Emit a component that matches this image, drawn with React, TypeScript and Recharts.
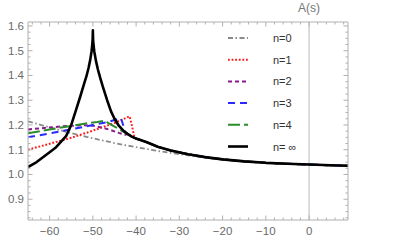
import React from 'react';
import { LineChart, Line, XAxis, YAxis, ReferenceLine, Legend } from 'recharts';

const W = 395;
const H = 247;
const FONT = '"Liberation Sans", Arial, sans-serif';
const FRAME = '#b0b0b0';
const LABEL = '#6a6a6a';

// Shared right-hand tail: every approximation merges onto n = ∞ here
const tailS = [-42, -41, -40, -37.5, -35, -32, -28, -24, -20, -15, -10, -5, 0, 5, 9];
const tailA = [1.164, 1.153, 1.145, 1.13, 1.112, 1.097, 1.082, 1.07, 1.061, 1.053, 1.047, 1.043, 1.04, 1.037, 1.035];

// n = ∞ (cusp at s = -50)
const infS = [-65, -63, -60, -58.5, -56.2, -55, -54, -53, -52, -51.5, -51, -50.6, -50.3, -50.15, -50.05, -50, -49.95, -49.83, -49.65, -49.3, -48.85, -48.3, -47.7, -46.7, -45.8, -45, -44, -43];
const infA = [1.03, 1.05, 1.09, 1.11, 1.155, 1.2, 1.255, 1.31, 1.368, 1.396, 1.43, 1.464, 1.498, 1.522, 1.546, 1.582, 1.546, 1.52, 1.495, 1.46, 1.425, 1.39, 1.355, 1.3, 1.255, 1.225, 1.197, 1.178];

// n = 0
const n0S = [-65, -60, -55, -50, -45, -40, -35, -30, -25, -20, -15, -10, -5, 0, 5, 9];
const n0A = [1.215, 1.19, 1.167, 1.146, 1.127, 1.11, 1.095, 1.082, 1.07, 1.06, 1.052, 1.047, 1.043, 1.04, 1.037, 1.035];

// n = 1
const n1S = [-65, -60, -55, -50, -45, -41.5, -41, -40.4];
const n1A = [1.1, 1.124, 1.148, 1.177, 1.208, 1.235, 1.2, 1.15];

// n = 2
const n2S = [-65, -60, -56, -52, -50, -48, -46, -44, -42.5];
const n2A = [1.182, 1.19, 1.196, 1.199, 1.197, 1.19, 1.18, 1.168, 1.16];

// n = 3
const n3S = [-65, -60, -55, -50, -47, -45, -43.5, -43, -42.6];
const n3A = [1.15, 1.166, 1.182, 1.2, 1.21, 1.22, 1.228, 1.2, 1.17];

// n = 4
const n4S = [-65, -60, -55, -52, -49, -47.2, -46.2, -45.2, -44.2, -43.3];
const n4A = [1.166, 1.182, 1.196, 1.205, 1.212, 1.217, 1.205, 1.195, 1.186, 1.176];

const xTicks = [-64, -62, -60, -58, -56, -54, -52, -50, -48, -46, -44, -42, -40, -38, -36, -34, -32, -30, -28, -26, -24, -22, -20, -18, -16, -14, -12, -10, -8, -6, -4, -2, 0, 2, 4, 6, 8];
const yTicks = [0.825, 0.85, 0.875, 0.9, 0.925, 0.95, 0.975, 1.0, 1.025, 1.05, 1.075, 1.1, 1.125, 1.15, 1.175, 1.2, 1.225, 1.25, 1.275, 1.3, 1.325, 1.35, 1.375, 1.4, 1.425, 1.45, 1.475, 1.5, 1.525, 1.55, 1.575, 1.6];

const mk = (s: number[], a: number[]) => s.map((x, i) => ({ s: x, v: a[i] }));
const withTail = (s: number[], a: number[]) => [
  ...mk(s, a),
  ...mk(tailS, tailA).filter((p) => p.s > s[s.length - 1]),
];

const series = [
  { name: 'n=0', data: mk(n0S, n0A), color: '#8a8a8a', width: 1.8, dash: '5 2.5 1.5 2.5' },
  { name: 'n=1', data: withTail(n1S, n1A), color: '#ff1a1a', width: 2, dash: '1.8 1.8' },
  { name: 'n=2', data: withTail(n2S, n2A), color: '#8a1a8a', width: 2, dash: '4 3' },
  { name: 'n=3', data: withTail(n3S, n3A), color: '#2a2aff', width: 2, dash: '7 5' },
  { name: 'n=4', data: withTail(n4S, n4A), color: '#2a8c2a', width: 2, dash: '12 4' },
  { name: 'n= \u221e', data: withTail(infS, infA), color: '#000000', width: 2.6, dash: undefined as string | undefined },
];

const isMajorX = (v: number) => Math.abs(v % 10) < 1e-9;
const isMajorY = (v: number) => Math.abs(v * 10 - Math.round(v * 10)) < 1e-6;
const fmtX = (v: number) => (v < 0 ? '\u2212' + Math.abs(v) : String(v));

const BottomTick = (p: any) => {
  const v = p.payload.value;
  const major = isMajorX(v);
  return (
    <g>
      <line x1={p.x} x2={p.x} y1={p.y} y2={p.y - (major ? 4.5 : 2.5)} stroke={FRAME} />
      {major && (
        <text x={p.x} y={p.y + 15} textAnchor="middle" fill={LABEL} fontSize={11.5} fontFamily={FONT}>
          {fmtX(v)}
        </text>
      )}
    </g>
  );
};
const TopTick = (p: any) => {
  const major = isMajorX(p.payload.value);
  return <line x1={p.x} x2={p.x} y1={p.y} y2={p.y + (major ? 4.5 : 2.5)} stroke={FRAME} />;
};
const LeftTick = (p: any) => {
  const v = p.payload.value;
  const major = isMajorY(v);
  return (
    <g>
      <line x1={p.x} x2={p.x + (major ? 4.5 : 2.5)} y1={p.y} y2={p.y} stroke={FRAME} />
      {major && (
        <text x={p.x - 4} y={p.y + 4} textAnchor="end" fill={LABEL} fontSize={11.5} fontFamily={FONT}>
          {v.toFixed(1)}
        </text>
      )}
    </g>
  );
};
const RightTick = (p: any) => {
  const major = isMajorY(p.payload.value);
  return <line x1={p.x} x2={p.x - (major ? 4.5 : 2.5)} y1={p.y} y2={p.y} stroke={FRAME} />;
};

const renderLegend = () => (
  <svg width={110} height={140} style={{ display: 'block' }}>
    {series.map((s, i) => (
      <g key={s.name} transform={`translate(0, ${12 + i * 21.7})`}>
        <line x1={8} x2={28} y1={0} y2={0} stroke={s.color} strokeWidth={s.width} strokeDasharray={s.dash} />
        <text x={53} y={4} fontSize={11} fill="#333" fontFamily={FONT}>
          {s.name}
        </text>
      </g>
    ))}
  </svg>
);

export default function App() {
  const xDomain: [number, number] = [-65, 9];
  const yDomain: [number, number] = [0.816, 1.616];
  return (
    <div style={{ position: 'absolute', left: 0, top: 0, width: W, height: H, background: '#fff' }}>
      <LineChart width={W} height={H} margin={{ top: 21, right: 46, bottom: 0, left: 0 }}>
        <XAxis
          xAxisId={0}
          type="number"
          dataKey="s"
          domain={xDomain}
          ticks={xTicks}
          interval={0}
          allowDataOverflow
          height={27}
          tickSize={0}
          tickMargin={0}
          tickLine={false}
          axisLine={{ stroke: FRAME }}
          tick={BottomTick}
        />
        <XAxis
          xAxisId="top"
          orientation="top"
          type="number"
          dataKey="s"
          domain={xDomain}
          ticks={xTicks}
          interval={0}
          allowDataOverflow
          height={1}
          tickSize={0}
          tickMargin={0}
          tickLine={false}
          axisLine={{ stroke: FRAME }}
          tick={TopTick}
        />
        <YAxis
          yAxisId={0}
          type="number"
          domain={yDomain}
          ticks={yTicks}
          interval={0}
          allowDataOverflow
          width={28}
          tickSize={0}
          tickMargin={0}
          tickLine={false}
          axisLine={{ stroke: FRAME }}
          tick={LeftTick}
        />
        <YAxis
          yAxisId="right"
          orientation="right"
          type="number"
          domain={yDomain}
          ticks={yTicks}
          interval={0}
          allowDataOverflow
          width={1}
          tickSize={0}
          tickMargin={0}
          tickLine={false}
          axisLine={{ stroke: FRAME }}
          tick={RightTick}
        />
        <ReferenceLine
          x={0}
          xAxisId={0}
          yAxisId={0}
          stroke="#b8b8b8"
          strokeWidth={1}
          label={{ value: 'A(s)', position: 'top', offset: 10, fill: '#777', fontSize: 12, fontFamily: FONT }}
        />
        {series.map((s) => (
          <Line
            key={s.name}
            xAxisId={0}
            yAxisId={0}
            data={s.data}
            dataKey="v"
            name={s.name}
            type="linear"
            stroke={s.color}
            strokeWidth={s.width}
            strokeDasharray={s.dash}
            strokeLinejoin="round"
            dot={false}
            activeDot={false}
            isAnimationActive={false}
          />
        ))}
        <Legend
          layout="vertical"
          align="center"
          verticalAlign="middle"
          content={renderLegend}
          wrapperStyle={{ left: 220, top: 26, width: 110, height: 140 }}
        />
      </LineChart>
    </div>
  );
}
